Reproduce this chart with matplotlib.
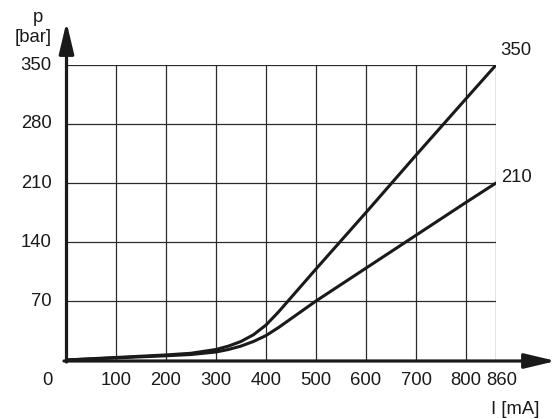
import matplotlib
matplotlib.use("Agg")
from matplotlib import pyplot as plt

plt.rcParams['font.family'] = ['Liberation Sans', 'DejaVu Sans']

# pressure p [bar] vs current I [mA]
current = [0, 100, 200, 250, 300, 325, 350, 375, 400, 425, 450, 475, 500, 600, 700, 800, 860]
p_350 = [0, 3, 6, 8, 12.5, 16.5, 22, 30, 41.5, 57, 74, 91, 108, 175, 243, 310, 350]
p_210 = [0, 2.5, 5, 6.5, 9.5, 12.5, 16.5, 22, 29, 38.5, 49, 59.5, 70, 109, 148, 187, 210]

x_grid = [100, 200, 300, 400, 500, 600, 700, 800, 860]
x_labels = ['100', '200', '300', '400', '500', '600', '700', '800', '860']
y_grid = [70, 140, 210, 280, 350]
y_labels = ['70', '140', '210', '280', '350']

W, H = 557, 419
fig = plt.figure(figsize=(W / 100, H / 100), dpi=100)
# axes box in pixels: x 66..496, y 65..360 (from top)
ax = fig.add_axes([66 / W, (H - 360) / H, 430 / W, 295 / H])
ax.set_xlim(0, 860)
ax.set_ylim(0, 350)
ax.axis('off')

for xv in x_grid:
    ax.plot([xv, xv], [0, 350], color='#2b2b2b', lw=0.9, zorder=1)
for yv in y_grid:
    ax.plot([0, 860], [yv, yv], color='#2b2b2b', lw=0.9, zorder=1)

ax.plot(current, p_350, color='#1a1a1a', lw=2.2, zorder=3, solid_capstyle='round')
ax.plot(current, p_210, color='#1a1a1a', lw=2.2, zorder=3, solid_capstyle='round')

fs = 13.3
# axis arrows (figure pixel coords)
def px(x, y):
    return (x / W, (H - y) / H)

ax.annotate('', xy=px(556, 361), xytext=px(64, 361), xycoords='figure fraction',
            textcoords='figure fraction',
            arrowprops=dict(arrowstyle='-|>,head_length=1.9,head_width=0.45',
                            color='#1a1a1a', lw=2.3, shrinkA=0, shrinkB=0))
ax.annotate('', xy=px(66.5, 22), xytext=px(66.5, 362), xycoords='figure fraction',
            textcoords='figure fraction',
            arrowprops=dict(arrowstyle='-|>,head_length=1.9,head_width=0.45',
                            color='#1a1a1a', lw=2.3, shrinkA=0, shrinkB=0))

for xv, lab in zip(x_grid, x_labels):
    xp = xv
    if lab == '860':
        xp = 872
    ax.text(xp, -24, lab, ha='center', va='center', fontsize=fs, color='#1a1a1a')
for yv, lab in zip(y_grid, y_labels):
    ax.text(-29, yv, lab, ha='right', va='center', fontsize=fs, color='#1a1a1a')
ax.text(-38, -24, '0', ha='center', va='center', fontsize=fs, color='#1a1a1a')

fig.text(*px(38, 17), 'p', ha='center', va='center', fontsize=fs, color='#1a1a1a')
fig.text(*px(33, 37), '[bar]', ha='center', va='center', fontsize=fs, color='#1a1a1a')
fig.text(*px(515, 409), 'I [mA]', ha='center', va='center', fontsize=fs, color='#1a1a1a')

ax.text(900, p_350[-1] + 17, '350', ha='center', va='center', fontsize=fs, color='#1a1a1a')
ax.text(900, p_210[-1] + 7, '210', ha='center', va='center', fontsize=fs, color='#1a1a1a')

fig.savefig('out.png', dpi=100)
